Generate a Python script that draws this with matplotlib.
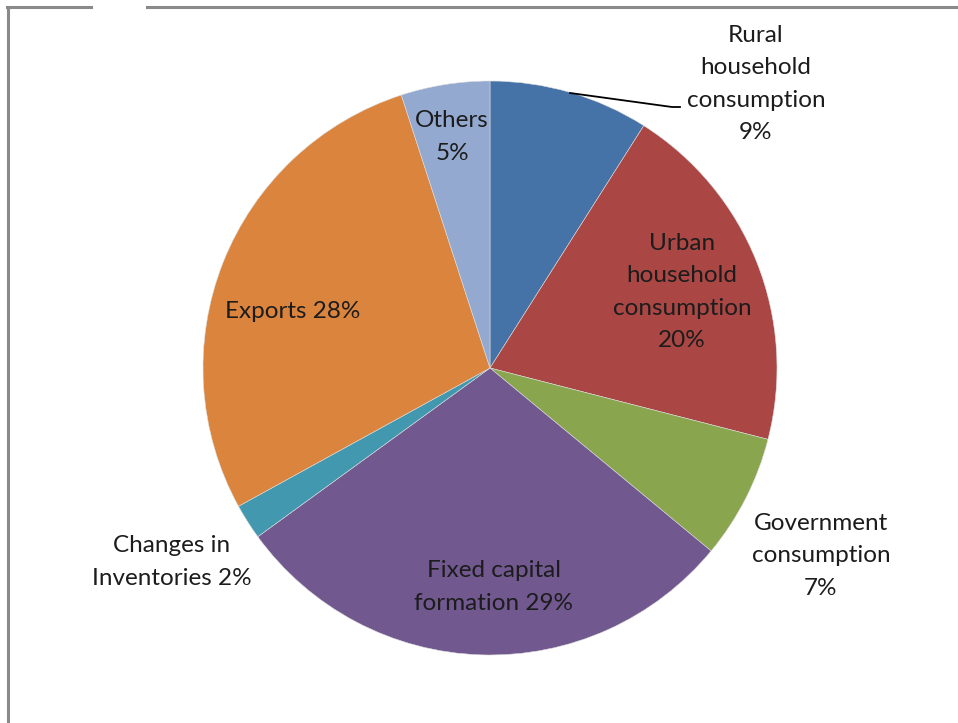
import matplotlib.pyplot as plt
from matplotlib.lines import Line2D

plt.rcParams['font.family'] = ['Lato', 'DejaVu Sans']

# GDP expenditure shares (%)
labels = ['Rural\nhousehold\nconsumption', 'Urban\nhousehold\nconsumption',
          'Government\nconsumption', 'Fixed capital\nformation',
          'Changes in\nInventories', 'Exports', 'Others']
shares = [9, 20, 7, 29, 2, 28, 5]
colors = ['#4572A7', '#AA4643', '#89A54E', '#71588F', '#4198AF', '#DB843D', '#93A9CF']

W, H = 958, 723
fig = plt.figure(figsize=(W / 100, H / 100), dpi=100)
ax = fig.add_axes([0, 0, 1, 1])

cx, cy, r = 490, H - 368, 287
ax.pie(shares, colors=colors, startangle=90, counterclock=False,
       center=(cx, cy), radius=r, frame=True,
       wedgeprops=dict(linewidth=0.4, edgecolor='#dddddd'))
ax.set_xlim(0, W)
ax.set_ylim(0, H)
ax.set_aspect('equal')
ax.axis('off')

# label placement (pixel positions, top-left origin) and text joiner
label_pos = [(756, 84), (682, 292), (821, 556), (494, 587),
             (172, 562), (293, 312), (452, 137)]
joiner = ['\n', '\n', '\n', ' ', ' ', ' ', '\n']
for lab, val, (x, y), j in zip(labels, shares, label_pos, joiner):
    ax.text(x, H - y, f'{lab}{j}{val}%', ha='center', va='center',
            fontsize=17.5, color='#1c1c1c', linespacing=1.68)

# leader line for the rural slice
ax.plot([570, 672, 680], [H - 93, H - 107, H - 107], color='black', lw=1.3)

# chart frame (left and top edges, broken at top-left)
gray = '#8a8a8a'
fig.add_artist(Line2D([7.5 / W, 7.5 / W], [1 - 7 / H, 0], color=gray, lw=2.2,
                      transform=fig.transFigure))
fig.add_artist(Line2D([7 / W, 91 / W], [1 - 7 / H, 1 - 7 / H], color=gray, lw=2.2,
                      transform=fig.transFigure))
fig.add_artist(Line2D([147 / W, 1], [1 - 7 / H, 1 - 7 / H], color=gray, lw=2.2,
                      transform=fig.transFigure))

fig.savefig('out.png', dpi=100)
